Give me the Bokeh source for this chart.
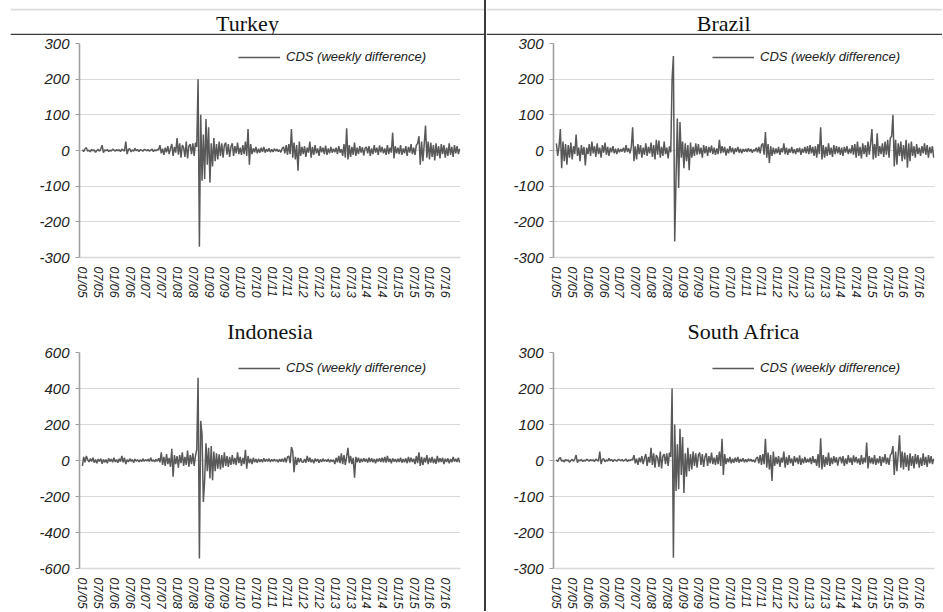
from bokeh.plotting import figure
from bokeh.models import Range1d, FixedTicker, Span, Div
from bokeh.layouts import row, column
from bokeh.core.properties import value
from bokeh.embed import file_html
from bokeh.resources import INLINE

# ---------------- data ----------------
tick_labels = ["01/05", "07/05", "01/06", "07/06", "01/07", "07/07", "01/08", "07/08",
               "01/09", "07/09", "01/10", "07/10", "01/11", "07/11", "01/12", "07/12",
               "01/13", "07/13", "01/14", "07/14", "01/15", "07/15", "01/16", "07/16"]
tick_months = [0, 6, 12, 18, 24, 30, 36, 42, 48, 54, 60, 66, 72, 78, 84, 90,
               96, 102, 108, 114, 120, 126, 132, 138]
legend_label = "CDS (weekly difference)"

# semi-monthly readings of the weekly CDS difference, Jan 2005 - Dec 2016
turkey = [
    2, -3, 5, 8, -2, 1, -4, 3, -1, 2, -5, 0, 3, -2, 4, 15, -6, 2, -1, 3, -3, 1, -2, 4,
    1, -2, 3, -1, 2, -3, 4, 1, -2, 25, -10, 3, 5, -4, 2, -2, 6, -1, 3, -3, 2, 1, -2, 3,
    2, -1, 3, -2, 1, 4, -3, 2, -1, 3, 2, 15, -8, 5, -12, 8, -5, 12, -10, 6, 18, -15, 10, -6,
    35, -12, 20, -20, 15, 8, -18, 25, -22, 12, 18, -10, 20, -15, 22, 10, 200, -270, 100, -85, 45, -80, 88, -40,
    65, -90, 20, -45, 35, -30, 18, -25, 25, -15, 20, -20, 15, 22, -12, 18, -18, 10, 20, -15, 12, -8, 22, -10,
    8, -12, 15, -10, 25, -15, 60, -40, 18, -10, 6, -5, 10, -8, 5, -6, 8, -4, 10, -6, 4, -3, 6, -5,
    3, -4, 5, -2, 4, -3, 2, -5, 6, 10, -8, 15, -12, 18, -10, 60, -20, 22, -25, 15, -57, 25, -15, 10,
    -10, 12, -18, 8, -6, 25, -20, 10, -12, 15, -8, 6, -15, 12, -5, 8, -10, 14, -12, 6, -8, 10, -6, 5,
    -5, 8, -10, 12, -6, 4, -15, 18, -20, 62, -25, 15, -18, 10, -12, 22, -15, 8, -10, 12, -6, 9, -14, 6,
    10, -8, 12, -15, 6, -10, 15, -6, 8, -12, 14, -5, 10, -8, 6, -12, 15, -10, 8, -6, 50, -22, 12, -8,
    8, -10, 15, -12, 6, -8, 12, -15, 10, -6, 18, -10, 8, -12, 15, 20, 40, -40, 25, -30, 18, 70, -20, 25,
    -25, 22, -18, 15, -28, 20, -15, 12, -22, 18, -10, 15, -20, 8, -15, 20, -12, 10, -18, 15, -8, 12, -10, 5,
]
brazil = [
    20, -15, 10, 60, -50, 25, -30, 18, -40, 15, -20, 22, -25, 12, -10, 45, -15, 8, -30, 15, -12, 10, -42, 8,
    -10, 18, -15, 25, -8, 12, -18, 20, -10, 8, -20, 15, -6, 22, -12, 10, -15, 8, -5, 12, -8, 5, -10, 6,
    -5, 4, -3, 8, -6, 15, -4, 6, -8, 10, 65, -30, 12, -25, 18, -10, 15, -20, 8, -12, 20, -15, 10, -8,
    22, -18, 15, -25, 30, -12, 28, -20, 10, -15, 25, -10, 8, -22, 12, -5, 200, 265, -255, -80, 90, -105, 80, -20,
    25, -50, 20, -30, 15, -55, 22, -20, 10, -15, 20, -12, 18, -10, 8, -20, 15, -8, 12, -15, 10, -6, 14, -10,
    8, -12, 6, -10, 30, -8, 12, -6, 10, -14, 5, -8, 12, -5, 8, -10, 6, -4, 10, -6, 5, -8, 4, -3,
    5, -4, 6, -3, 4, -6, 3, -2, 8, -5, 10, -8, 15, 20, -12, 52, -20, 18, -35, 12, -15, 8, -10, 6,
    -8, 10, -12, 6, -5, 20, -10, 8, -12, 5, -6, 10, -8, 4, -10, 6, -5, 8, -12, 5, -6, 10, -8, 12,
    -10, 15, -8, 10, -15, 12, -20, 18, -10, 65, -25, 15, -20, 10, -15, 20, -12, 8, -18, 15, -10, 12, -8, 10,
    -12, 8, -15, 10, -6, 12, -10, 5, -8, 15, -12, 18, -20, 25, -15, 10, -22, 20, -10, 15, -18, 25, -12, 20,
    60, -25, 18, -20, 48, -15, 12, -10, 20, -18, 25, -12, 30, -20, 35, 40, 100, -45, 30, -40, 20, -15, 25, -30,
    15, -25, 30, -48, 20, -30, 25, -15, 12, -20, 18, -10, 8, -15, 12, -8, 20, -12, 15, -20, 10, -8, 12, -20,
]
indonesia = [
    -30, 20, -10, 25, 5, -8, 10, -5, 15, -12, 5, -15, 8, -5, 10, -18, 6, -10, 5, -15, 12, -6, 8, -10,
    15, -8, 5, -12, 10, -6, 25, -10, 15, -20, 5, -8, 10, -5, 6, -12, 8, -4, 5, -8, 4, -6, 10, -5,
    5, -3, 8, -6, 15, -5, 4, -8, 6, -4, 12, -10, 45, -25, 20, -30, 35, -20, 15, -35, 65, -90, 30, -20,
    25, -40, 30, -15, 45, -30, 20, -25, 55, -35, 30, -20, 40, -30, 25, 60, 460, -545, 220, 145, -230, -110, 95, -60,
    70, -100, 80, -110, 50, -60, 40, -45, 35, -50, 30, -40, 45, -30, 25, -35, 20, -25, 30, -20, 15, -25, 45, -15,
    20, -30, 15, -20, 60, -45, 25, -15, 10, -20, 15, -10, 8, -12, 10, -8, 6, -10, 12, -6, 8, -5, 10, -8,
    6, -5, 8, -4, 5, -10, 8, -6, 10, -8, 15, -10, 20, 25, -15, 75, 50, -65, 20, -25, 15, -10, 12, -8,
    -10, 8, -12, 25, -8, 15, -10, 6, -15, 10, -5, 8, -12, 6, -8, 10, -5, 4, -6, 8, -10, 5, -6, 4,
    -20, 15, -10, 25, -15, 40, -20, 30, -25, 20, 70, -15, 25, -20, 15, -95, 20, -10, 15, -12, 10, -8, 12, -6,
    10, -12, 15, -8, 12, -10, 8, -15, 10, -6, 12, -8, 15, -10, 20, -12, 25, -8, 10, -15, 12, -6, 8, -10,
    10, -8, 15, -12, 8, -10, 12, -15, 20, -10, 15, -8, 10, -20, 25, -15, 45, -30, 20, -25, 15, -10, 30, -20,
    15, -12, 20, -15, 10, -18, 25, -10, 12, -8, 15, -20, 10, -8, 12, -15, 8, -10, 20, -6, 10, -8, 15, -12,
]
# the South Africa panel in the source shows the same series as the Turkey panel
south_africa = list(turkey)

ticks_300 = [-300, -200, -100, 0, 100, 200, 300]
ticks_600 = [-600, -400, -200, 0, 200, 400, 600]

# x position of every observation, in months since 01/05
months = [i * 0.5 for i in range(len(turkey))]

LINE_COLOR = "#595959"
GRID_COLOR = "#d9d9d9"
RULE_COLOR = "#3a3a3a"
TEXT_COLOR = "#222222"
SANS = "Liberation Sans"
SERIF = "Liberation Serif"

LEFT_W, DIV_W, RIGHT_W = 484, 2, 456
HEAD_H, TOP_H, BOT_H = 35, 265, 311


def vrule(h):
    return Div(text="", width=DIV_W, height=h, margin=0,
               styles={"background-color": RULE_COLOR})


def header(name, width, b_left, text_x):
    """Title strip of the upper panels: light rule on top, dark rule underneath."""
    h = figure(width=width, height=HEAD_H, output_backend="svg", toolbar_location=None,
               x_range=Range1d(0, 1), y_range=Range1d(-0.04, 1.04),
               x_axis_location=None, y_axis_location=None,
               min_border_left=b_left, min_border_right=0, min_border_top=8, min_border_bottom=0)
    h.grid.visible = False
    h.outline_line_color = None
    h.border_fill_color = "white"
    h.add_layout(Span(location=1.0, dimension="width", line_color="#dcdcdc", line_width=2))
    h.add_layout(Span(location=0.0, dimension="width", line_color=RULE_COLOR, line_width=1.6))
    h.text(x=[text_x], y=[0.44], text=[name], text_align="center", text_baseline="middle",
           text_font=value(SERIF), text_font_size="22px", text_color="#111111")
    return h


def panel(name, values, yticks, width, height, b_left, b_right, b_top, b_bottom,
          title_offset=0, title_standoff=10):
    p = figure(width=width, height=height, output_backend="svg", toolbar_location=None,
               x_range=Range1d(-1.1, 143.8), y_range=Range1d(yticks[0], yticks[-1]),
               min_border_left=b_left, min_border_right=b_right,
               min_border_top=b_top, min_border_bottom=b_bottom,
               title=name)
    if name:
        p.title.text_font = SERIF
        p.title.text_font_size = "22px"
        p.title.text_font_style = "normal"
        p.title.text_color = "#111111"
        p.title.align = "center"
        p.title.offset = title_offset
        p.title.standoff = title_standoff

    p.line(months, values, line_color=LINE_COLOR, line_width=1.5, legend_label=legend_label)

    p.outline_line_color = None
    p.background_fill_color = "white"
    p.border_fill_color = "white"
    p.xgrid.grid_line_color = None
    p.ygrid.grid_line_color = GRID_COLOR
    p.ygrid.grid_line_width = 1.2
    p.ygrid.ticker = FixedTicker(ticks=yticks)

    p.xaxis.ticker = FixedTicker(ticks=tick_months)
    p.xaxis.major_label_overrides = {m: lbl for m, lbl in zip(tick_months, tick_labels)}
    p.xaxis.major_label_orientation = "vertical"
    p.xaxis.major_tick_line_color = None
    p.xaxis.minor_tick_line_color = None
    p.xaxis.axis_line_color = GRID_COLOR
    p.xaxis.axis_line_width = 1.5
    p.xaxis.major_label_standoff = 3
    p.xaxis.major_label_text_font = SANS
    p.xaxis.major_label_text_font_style = "italic"
    p.xaxis.major_label_text_font_size = "12.5px"
    p.xaxis.major_label_text_color = TEXT_COLOR

    p.yaxis.ticker = FixedTicker(ticks=yticks)
    p.yaxis.major_label_overrides = {t: str(t) for t in yticks}
    p.yaxis.axis_line_color = "#a0a0a0"
    p.yaxis.axis_line_width = 1.6
    p.yaxis.major_tick_line_color = "#a0a0a0"
    p.yaxis.major_tick_out = 4
    p.yaxis.major_tick_in = 0
    p.yaxis.minor_tick_line_color = None
    p.yaxis.major_label_standoff = 6
    p.yaxis.major_label_text_font = SANS
    p.yaxis.major_label_text_font_style = "italic"
    p.yaxis.major_label_text_font_size = "15px"
    p.yaxis.major_label_text_color = TEXT_COLOR

    lg = p.legend[0]
    lg.location = (159, 193)
    lg.padding = 0
    lg.margin = 0
    lg.spacing = 0
    lg.glyph_width = 42
    lg.glyph_height = 14
    lg.label_height = 14
    lg.label_standoff = 6
    lg.border_line_color = None
    lg.background_fill_alpha = 0
    lg.label_text_font = SANS
    lg.label_text_font_style = "italic"
    lg.label_text_font_size = "13px"
    lg.label_text_color = TEXT_COLOR
    return p


h_tr = header("Turkey", LEFT_W, 10, 0.5)
h_br = header("Brazil", RIGHT_W, 0, 0.52)
p_tr = panel(None, turkey, ticks_300, LEFT_W, TOP_H, 79, 24, 8, 41)
p_br = panel(None, brazil, ticks_300, RIGHT_W, TOP_H, 67, 8, 8, 41)
p_id = panel("Indonesia", indonesia, ticks_600, LEFT_W, BOT_H, 79, 24, 52, 43, -22, 17)
p_sa = panel("South Africa", south_africa, ticks_300, RIGHT_W, BOT_H, 67, 8, 52, 43, -20, 17)

layout = column(row(h_tr, vrule(HEAD_H), h_br),
                row(p_tr, vrule(TOP_H), p_br),
                row(p_id, vrule(BOT_H), p_sa))

open("out.html", "w").write(file_html(layout, INLINE))
